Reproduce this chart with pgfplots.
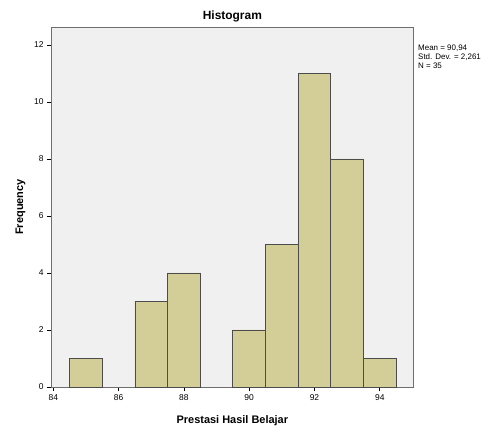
\documentclass[border=0pt]{standalone}
\usepackage{pgfplots}
\pgfplotsset{compat=1.18}
\usepackage{fontspec}
\setmainfont{Liberation Sans}
\definecolor{barfill}{RGB}{211,206,152}
\definecolor{plotbg}{RGB}{240,240,240}
\definecolor{framegray}{RGB}{110,110,110}
\begin{document}
\begin{tikzpicture}[x=1bp,y=1bp]
  \useasboundingbox (0,0) rectangle (492,430);
  \begin{axis}[
    at={(51bp,43bp)}, anchor=south west,
    scale only axis, width=362.7bp, height=360bp,
    xmin=83.93, xmax=95.04, ymin=0, ymax=12.63,
    axis background/.style={fill=plotbg},
    axis line style={framegray, line width=0.8pt},
    xtick={84,86,...,94}, ytick={0,2,...,12},
    tick align=outside, tick pos=left,
    major tick length=4bp,
    tick style={black, line width=0.7pt},
    tick label style={font=\fontsize{8.5}{10}\selectfont},
    /pgf/number format/assume math mode=true,
    xlabel={\textbf{Prestasi Hasil Belajar}},
    ylabel={\textbf{Frequency}},
    label style={font=\fontsize{11}{13}\selectfont},
    xlabel style={at={(axis description cs:0.5,0)}, yshift=-25bp},
    ylabel style={at={(axis description cs:0,0.5)}, yshift=22bp},
    title={\textbf{Histogram}},
    title style={font=\fontsize{12}{14}\selectfont, yshift=-5bp},
    clip=false,
  ]
    \addplot[ybar, bar width=1, fill=barfill, draw=black!70, line width=0.8pt]
      coordinates {(85,1) (87,3) (88,4) (90,2) (91,5) (92,11) (93,8) (94,1)};
  \end{axis}
  \node[anchor=north west, align=left, inner sep=0pt,
        font=\fontsize{8}{9}\selectfont] at (418bp,385bp)
    {Mean = 90,94\\Std. Dev. = 2,261\\N = 35};
\end{tikzpicture}
\end{document}
